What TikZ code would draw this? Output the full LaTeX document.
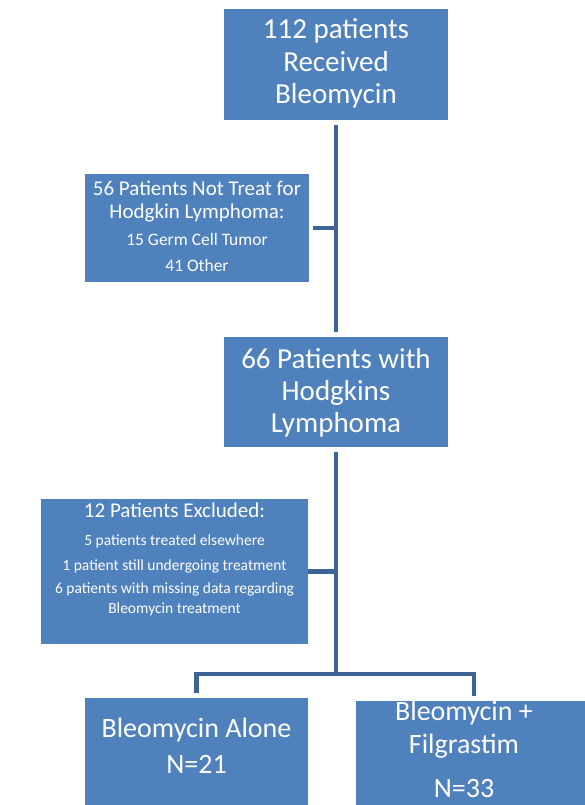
\documentclass[tikz,border=0pt]{standalone}
\usepackage{fontspec}
\usepackage{xcolor}
\usepackage{tikz}
\setmainfont{Carlito}
\definecolor{boxblue}{HTML}{4F81BD}
\definecolor{lineblue}{HTML}{3C6494}
% width, height, first baseline, lines
\newcommand{\boxtext}[4]{\begin{minipage}[c][#2][t]{#1}\centering\rule{0pt}{#3}#4\par\end{minipage}}

\begin{document}
\begin{tikzpicture}[x=1pt,y=-1pt,
  box/.style={fill=boxblue,text=white,inner sep=0pt,outer sep=0pt},
  link/.style={draw=lineblue,line width=4.5pt}]
  \useasboundingbox (0,0) rectangle (585,805);

  \node[box] (received) at (336,64.5) {\boxtext{224pt}{111pt}{30pt}{%
    \fontsize{29}{32.5}\selectfont 112 patients\\Received\\Bleomycin}};
  \node[box] (nottreated) at (197,228) {\boxtext{224pt}{108pt}{21pt}{%
    {\fontsize{21}{23}\selectfont 56 Patients Not Treat for\\Hodgkin Lymphoma:\par}
    \fontsize{17.5}{27}\selectfont 15 Germ Cell Tumor\\[-1pt]41 Other}};
  \node[box] (hodgkin) at (336,392) {\boxtext{224pt}{110pt}{31pt}{%
    \fontsize{29}{32}\selectfont 66 Patients with\\Hodgkins\\Lymphoma}};
  \node[box] (excluded) at (174.5,571.5) {\boxtext{267pt}{145pt}{18pt}{%
    {\fontsize{21}{23}\selectfont 12 Patients Excluded:\par}\vspace{8pt}
    \fontsize{15.5}{20}\selectfont 5 patients treated elsewhere\\[5pt]
    1 patient still undergoing treatment\\[3pt]
    6 patients with missing data regarding\\Bleomycin treatment}};
  \node[box] (alone) at (196.5,753) {\boxtext{223pt}{110pt}{39pt}{%
    \fontsize{28}{36}\selectfont Bleomycin Alone\\N=21}};
  \node[box] (filgrastim) at (474,756) {\boxtext{236pt}{110pt}{19pt}{%
    \rightskip=20pt plus 1fil\relax
    \fontsize{28}{33}\selectfont Bleomycin +\\Filgrastim\\[11pt]N=33}};

  \coordinate (fork) at (336,674);

  % trunk and side branches
  \draw[link,shorten <=5pt,shorten >=5pt] (received) -- (hodgkin);
  \draw[link,shorten <=4pt] (nottreated.east) -- (nottreated.east -| received.south);
  \draw[link,shorten <=5pt] (hodgkin.south) -- (fork);
  \draw[link] (excluded.east) -- (excluded.east -| hodgkin.south);
  \draw[link,shorten <=5pt,shorten >=5pt] (alone.north) |- (fork) -| (filgrastim.north);
\end{tikzpicture}
\end{document}
